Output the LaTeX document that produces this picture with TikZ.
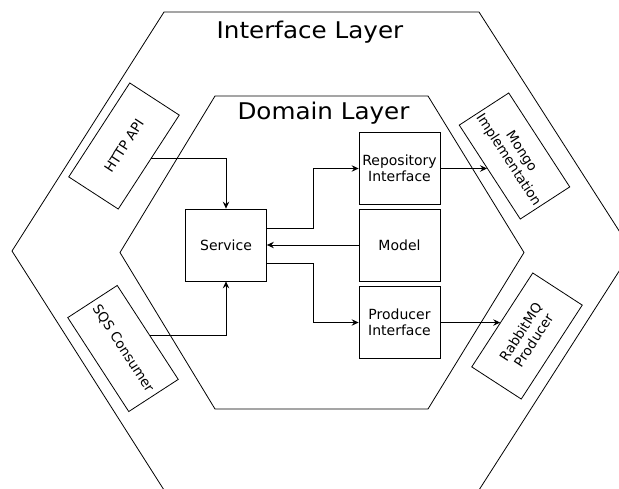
\documentclass[tikz,border=0pt]{standalone}
\usepackage{fontspec}
\setmainfont{DejaVu Sans}
\newfontfamily\titlefont[FakeStretch=1.07]{DejaVu Sans}
\usetikzlibrary{arrows.meta,calc}

\tikzset{
  hexline/.style={draw=black, line width=0.8pt},
  box/.style={draw=black, line width=0.8pt, minimum width=81pt, minimum height=72pt,
              inner sep=1pt, align=center, font=\fontsize{14}{15.5}\selectfont},
  tilted/.style={draw=black, line width=0.8pt, minimum width=112pt, minimum height=59pt,
                 inner sep=1pt, align=center, font=\fontsize{13.5}{15.5}\selectfont},
  title/.style={anchor=base, inner sep=0pt, font=\titlefont\fontsize{23}{28}\selectfont},
  link/.style={draw=black, line width=0.8pt, -{Stealth[length=7pt,width=6.5pt,inset=2.5pt]}},
}

\begin{document}
\begin{tikzpicture}[x=1pt, y=-1pt]
  \useasboundingbox (0,0) rectangle (619,488);
  \clip (0,0) rectangle (619,488);

  % layer hexagons
  \draw[hexline] (164,12) -- (479,12) -- (632,251) -- (479,490) -- (164,490) -- (12,251) -- cycle;
  \draw[hexline] (215,96) -- (428,96) -- (524,252.5) -- (428,409) -- (215,409) -- (120,252.5) -- cycle;

  \node[title] (ifacetitle) at (310,38.3) {Interface Layer};
  \node[title] (domaintitle) at (323.5,119) {Domain Layer};

  % domain components
  \node[box] (service)  at (226,245)   {Service};
  \node[box] (repo)     at (399.5,168.5) {Repository\\Interface};
  \node[box] (model)    at (399.5,245)   {Model};
  \node[box] (producer) at (399.5,322.5) {Producer\\Interface};

  % adapters along the interface layer
  \node[tilted, rotate=57]  (http)   at (124,146)   {HTTP API};
  \node[tilted, rotate=-57] (sqs)    at (123,348.5) {SQS Consumer};
  \node[tilted, rotate=-57] (mongo)  at (514.5,156) {Mongo\\Implementation};
  \node[tilted, rotate=57]  (rabbit) at (527,336)   {RabbitMQ\\Producer};

  % helper points for the connector ends on the tilted boxes
  \coordinate (hbend) at ($(service.north)+(0,-50)$);
  \coordinate (hfar)  at ($(hbend)+(-100,0)$);
  \coordinate (hstart) at (intersection of http.south west--http.south east and hbend--hfar);

  \coordinate (sbend) at ($(service.south)+(0,54)$);
  \coordinate (sfar)  at ($(sbend)+(-100,0)$);
  \coordinate (sstart) at (intersection of sqs.north west--sqs.north east and sbend--sfar);

  \coordinate (rfar) at ($(repo.east)+(100,0)$);
  \coordinate (mtip) at (intersection of mongo.south west--mongo.south east and repo.east--rfar);

  \coordinate (pfar) at ($(producer.east)+(100,0)$);
  \coordinate (qtip) at (intersection of rabbit.north west--rabbit.north east and producer.east--pfar);

  % connectors
  \draw[link] (hstart) -| (service.north);
  \draw[link] (sstart) -| (service.south);
  \draw[link] ([yshift=17pt]service.east) -- ++(46,0) |- (repo.west);
  \draw[link] ([yshift=-18pt]service.east) -- ++(46,0) |- (producer.west);
  \draw[link] (model.west) -- (service.east);
  \draw[link] (repo.east) -- (mtip);
  \draw[link] (producer.east) -- (qtip);
\end{tikzpicture}
\end{document}
